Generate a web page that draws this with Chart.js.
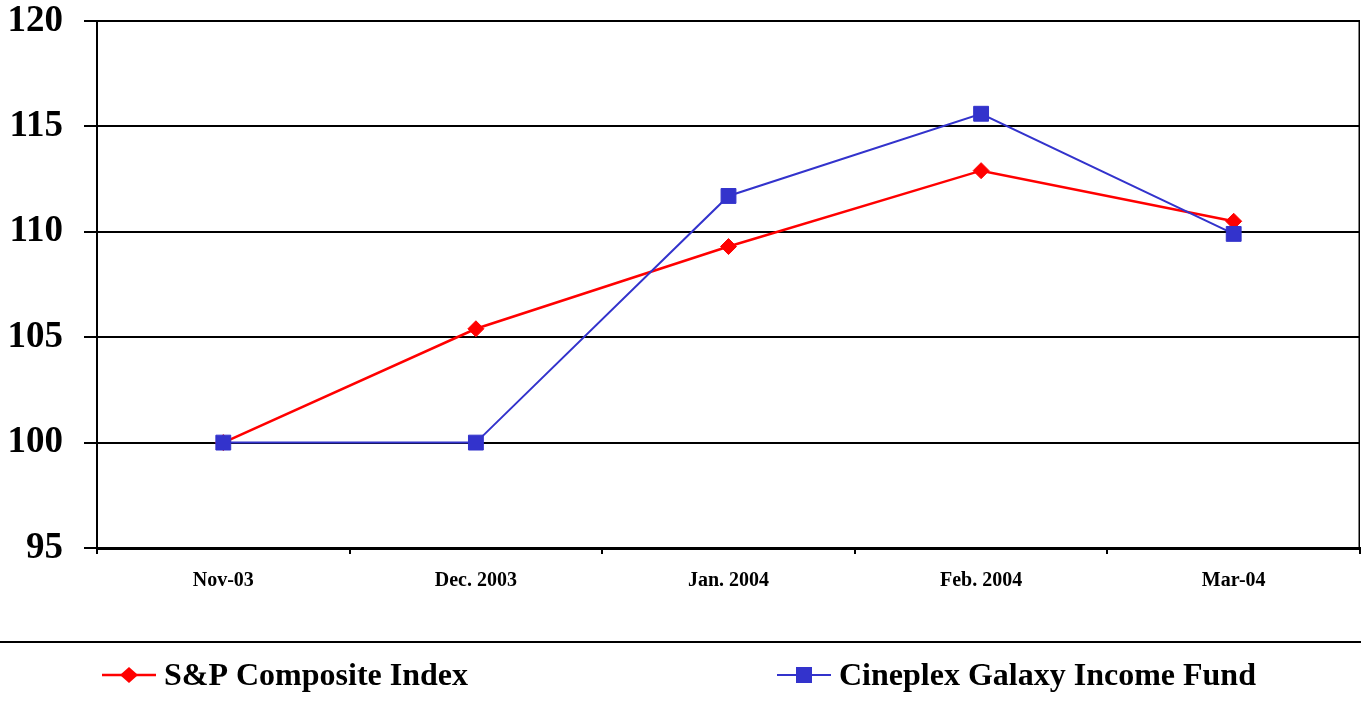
<!DOCTYPE html>
<html>
<head>
<meta charset="utf-8">
<script src="https://cdn.jsdelivr.net/npm/chart.js@4/dist/chart.umd.min.js"></script>
<style>
  html, body { margin: 0; padding: 0; background: #fff; }
  #wrap { width: 1361px; height: 708px; }
</style>
</head>
<body>
<div id="wrap"><canvas id="perf-chart"></canvas></div>
<script>
// values (index, Nov-03 = 100)
const months       = ['Nov-03', 'Dec. 2003', 'Jan. 2004', 'Feb. 2004', 'Mar-04'];
const spComposite  = [100, 105.4, 109.3, 112.9, 110.5];
const cineplexFund = [100, 100, 111.7, 115.6, 109.9];
const seriesNames  = ['S&P Composite Index', 'Cineplex Galaxy Income Fund'];
const yMin = 95, yMax = 120, yStep = 5;

const FONT = "'Liberation Serif', 'Times New Roman', serif";

// legend under a full-width rule, line + marker like the original
const bottomLegend = {
  id: 'bottomLegend',
  afterDraw(chart, args, opts) {
    const ctx = chart.ctx;
    const area = chart.chartArea;
    ctx.save();

    // right frame edge of the plot
    ctx.strokeStyle = '#000';
    ctx.lineWidth = 1.5;
    ctx.beginPath();
    ctx.moveTo(area.right - 0.75, area.top);
    ctx.lineTo(area.right - 0.75, area.bottom);
    ctx.stroke();

    // rule above the legend
    ctx.lineWidth = 2;
    ctx.beginPath();
    ctx.moveTo(0, opts.ruleY);
    ctx.lineTo(chart.width, opts.ruleY);
    ctx.stroke();

    chart.data.datasets.forEach((ds, i) => {
      const x0 = opts.starts[i];
      const y = opts.y;
      const cx = x0 + opts.lineLen / 2;
      ctx.strokeStyle = ds.borderColor;
      ctx.lineWidth = ds.borderWidth;
      ctx.beginPath();
      ctx.moveTo(x0, y);
      ctx.lineTo(x0 + opts.lineLen, y);
      ctx.stroke();

      ctx.fillStyle = ds.pointBackgroundColor;
      ctx.beginPath();
      if (ds.pointStyle === 'rect') {
        ctx.rect(cx - 8, y - 8, 16, 16);
      } else {
        ctx.moveTo(cx - 9, y);
        ctx.lineTo(cx, y - 8);
        ctx.lineTo(cx + 9, y);
        ctx.lineTo(cx, y + 8);
        ctx.closePath();
      }
      ctx.fill();

      ctx.fillStyle = '#000';
      ctx.font = `bold ${opts.fontSize}px ${FONT}`;
      ctx.textAlign = 'left';
      ctx.textBaseline = 'middle';
      ctx.fillText(ds.label, x0 + opts.lineLen + opts.gap, y + 2);
    });
    ctx.restore();
  }
};

new Chart(document.getElementById('perf-chart'), {
  type: 'line',
  data: {
    labels: months,
    datasets: [
      {
        label: seriesNames[0],
        data: spComposite,
        borderColor: '#ff0000',
        backgroundColor: '#ff0000',
        pointBackgroundColor: '#ff0000',
        pointBorderColor: '#ff0000',
        borderWidth: 2.5,
        pointStyle: 'rectRot',
        pointRadius: 8,
        pointBorderWidth: 1,
        tension: 0,
        fill: false,
        order: 1
      },
      {
        label: seriesNames[1],
        data: cineplexFund,
        borderColor: '#3333cc',
        backgroundColor: '#3333cc',
        pointBackgroundColor: '#3333cc',
        pointBorderColor: '#3333cc',
        borderWidth: 2,
        pointStyle: 'rect',
        pointRadius: 10.5,
        pointBorderWidth: 1,
        tension: 0,
        fill: false,
        order: 0
      }
    ]
  },
  options: {
    responsive: true,
    maintainAspectRatio: false,
    animation: false,
    layout: { autoPadding: false, padding: { top: 21, right: 1, bottom: 110, left: 0 } },
    plugins: {
      legend: { display: false },
      tooltip: { enabled: false },
      bottomLegend: { ruleY: 642, y: 675, starts: [102, 777], lineLen: 54, gap: 8, fontSize: 32 }
    },
    scales: {
      x: {
        offset: true,
        grid: {
          offset: true,
          drawOnChartArea: false,
          drawTicks: true,
          tickLength: 6,
          color: '#000',
          lineWidth: 2
        },
        border: { display: true, color: '#000', width: 3 },
        ticks: {
          color: '#000',
          padding: 15,
          maxRotation: 0,
          font: { family: FONT, size: 20, weight: 'bold' }
        },
        afterFit(scale) {
          scale.height = 50;
          scale.paddingLeft = 0;
          scale.paddingRight = 0;
        }
      },
      y: {
        min: yMin,
        max: yMax,
        grid: {
          color: '#000',
          lineWidth: 2,
          drawTicks: true,
          tickLength: 13
        },
        border: { display: true, color: '#000', width: 2 },
        ticks: {
          stepSize: yStep,
          color: '#000',
          padding: 21,
          font: { family: FONT, size: 37, weight: 'bold', lineHeight: 1.1 }
        },
        afterFit(scale) {
          scale.width = 97;
          scale.paddingTop = 0;
          scale.paddingBottom = 0;
        }
      }
    }
  },
  plugins: [bottomLegend]
});
</script>
</body>
</html>
